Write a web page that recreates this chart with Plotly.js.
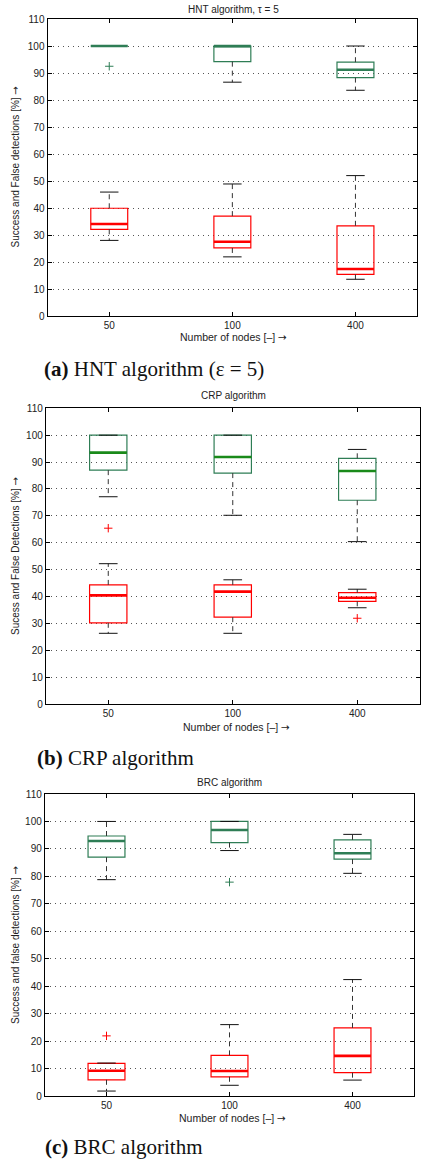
<!DOCTYPE html>
<html>
<head>
<meta charset="utf-8">
<script src="https://cdn.plot.ly/plotly-3.0.1.min.js"></script>
<style>html,body{margin:0;padding:0;background:#fff}#chart{width:422px;height:1162px}</style>
</head>
<body>
<div id="chart"></div>
<script>
// ---------- DATA ----------
var categories = ['50', '100', '400'];
var yTickLabels = ['0','10','20','30','40','50','60','70','80','90','100','110'];

// HNT algorithm, tau = 5
var hntSuccessQ1 = [100, 94.2, 88.3];
var hntSuccessMedian = [100, 100, 91.2];
var hntSuccessQ3 = [100, 100, 94.0];
var hntSuccessLow = [100, 86.6, 83.6];
var hntSuccessHigh = [100, 100, 100];
var hntSuccessOutCat = ['50'];
var hntSuccessOutVal = [92.5];

var hntFalseQ1 = [32.1, 25.2, 15.4];
var hntFalseMedian = [34.1, 27.5, 17.4];
var hntFalseQ3 = [39.9, 37.0, 33.4];
var hntFalseLow = [28.0, 21.9, 13.6];
var hntFalseHigh = [45.9, 48.9, 52.0];
var hntFalseOutCat = [];
var hntFalseOutVal = [];

// CRP algorithm
var crpSuccessQ1 = [87.0, 85.9, 75.8];
var crpSuccessMedian = [93.5, 91.9, 86.7];
var crpSuccessQ3 = [100, 100, 91.4];
var crpSuccessLow = [77.1, 70.2, 60.4];
var crpSuccessHigh = [100, 100, 94.7];
var crpSuccessOutCat = [];
var crpSuccessOutVal = [];

var crpFalseQ1 = [30.2, 32.3, 38.2];
var crpFalseMedian = [40.4, 41.8, 39.5];
var crpFalseQ3 = [44.3, 44.3, 41.4];
var crpFalseLow = [26.3, 26.3, 35.8];
var crpFalseHigh = [52.2, 46.2, 42.7];
var crpFalseOutCat = ['50', '400'];
var crpFalseOutVal = [65.4, 31.9];

// BRC algorithm
var brcSuccessQ1 = [87.0, 92.3, 86.3];
var brcSuccessMedian = [92.9, 96.9, 88.4];
var brcSuccessQ3 = [94.7, 100, 93.3];
var brcSuccessLow = [78.8, 89.4, 81.1];
var brcSuccessHigh = [100, 100, 95.3];
var brcSuccessOutCat = ['100'];
var brcSuccessOutVal = [77.9];

var brcFalseQ1 = [5.9, 7.0, 8.5];
var brcFalseMedian = [9.2, 9.1, 14.6];
var brcFalseQ3 = [11.9, 14.8, 24.8];
var brcFalseLow = [1.8, 3.9, 5.8];
var brcFalseHigh = [12.0, 26.0, 42.4];
var brcFalseOutCat = ['50'];
var brcFalseOutVal = [21.9];

// ---------- STYLE / LAYOUT ----------
var W = 422, H = 1162;
function px(x) { return x / W; }
function py(y) { return 1 - y / H; }

var BOX_W = 0.3, CAP_W = 0.15;
var GREEN = '#2e7d55', GREEN2 = '#1a8a1a', RED = '#ff0000', WHISK = '#333333';

function pos(cat) { return categories.indexOf(cat) + 1; }

function seriesTraces(ax, s, color, medColor) {
  var xa = 'x' + ax, ya = 'y' + ax;
  var P = categories.map(function (c) { return pos(c); });
  var wx = [], wy = [], cx = [], cy = [], mx = [], my = [];
  P.forEach(function (p, i) {
    wx.push(p, p, null, p, p, null);
    wy.push(s.q3[i], s.hi[i], null, s.q1[i], s.lo[i], null);
    cx.push(p - CAP_W / 2, p + CAP_W / 2, null, p - CAP_W / 2, p + CAP_W / 2, null);
    cy.push(s.hi[i], s.hi[i], null, s.lo[i], s.lo[i], null);
    mx.push(p - BOX_W / 2, p + BOX_W / 2, null);
    my.push(s.med[i], s.med[i], null);
  });
  return [
    {type: 'scatter', mode: 'lines', x: wx, y: wy, xaxis: xa, yaxis: ya,
     line: {color: WHISK, width: 1, dash: '5px,4px'}, hoverinfo: 'skip'},
    {type: 'scatter', mode: 'lines', x: cx, y: cy, xaxis: xa, yaxis: ya,
     line: {color: '#111', width: 1}, hoverinfo: 'skip'},
    {type: 'box', x: P, q1: s.q1, median: s.med, q3: s.q3,
     lowerfence: s.q1, upperfence: s.q3, width: BOX_W, whiskerwidth: 0,
     boxpoints: false, xaxis: xa, yaxis: ya,
     line: {color: color, width: 1.2}, fillcolor: 'rgba(0,0,0,0)', hoverinfo: 'skip'},
    {type: 'scatter', mode: 'lines', x: mx, y: my, xaxis: xa, yaxis: ya,
     line: {color: medColor, width: 2.6}, hoverinfo: 'skip'},
    {type: 'scatter', mode: 'markers', x: s.outCat.map(pos), y: s.outVal, xaxis: xa, yaxis: ya,
     marker: {symbol: 'cross-thin', size: 6, color: s.outColor || color,
              line: {color: s.outColor || color, width: 1}}, hoverinfo: 'skip'}
  ];
}

var traces = [];
traces = traces.concat(seriesTraces('', {q1: hntSuccessQ1, med: hntSuccessMedian, q3: hntSuccessQ3, lo: hntSuccessLow, hi: hntSuccessHigh, outCat: hntSuccessOutCat, outVal: hntSuccessOutVal}, GREEN, GREEN));
traces = traces.concat(seriesTraces('', {q1: hntFalseQ1, med: hntFalseMedian, q3: hntFalseQ3, lo: hntFalseLow, hi: hntFalseHigh, outCat: hntFalseOutCat, outVal: hntFalseOutVal}, RED, RED));
traces = traces.concat(seriesTraces('2', {q1: crpSuccessQ1, med: crpSuccessMedian, q3: crpSuccessQ3, lo: crpSuccessLow, hi: crpSuccessHigh, outCat: crpSuccessOutCat, outVal: crpSuccessOutVal}, GREEN, GREEN2));
traces = traces.concat(seriesTraces('2', {q1: crpFalseQ1, med: crpFalseMedian, q3: crpFalseQ3, lo: crpFalseLow, hi: crpFalseHigh, outCat: crpFalseOutCat, outVal: crpFalseOutVal}, RED, RED));
traces = traces.concat(seriesTraces('3', {q1: brcSuccessQ1, med: brcSuccessMedian, q3: brcSuccessQ3, lo: brcSuccessLow, hi: brcSuccessHigh, outCat: brcSuccessOutCat, outVal: brcSuccessOutVal}, GREEN, GREEN));
traces = traces.concat(seriesTraces('3', {q1: brcFalseQ1, med: brcFalseMedian, q3: brcFalseQ3, lo: brcFalseLow, hi: brcFalseHigh, outCat: brcFalseOutCat, outVal: brcFalseOutVal}, RED, RED));

var tickFont = {family: 'Liberation Sans, Arial, sans-serif', size: 10, color: '#222'};
function xAxis(anchor, l, r) {
  return {domain: [px(l), px(r)], anchor: anchor, range: [0.5, 3.5],
    tickmode: 'array', tickvals: [1, 2, 3], ticktext: categories,
    ticks: 'inside', ticklen: 4, tickcolor: '#000', tickwidth: 1,
    showline: true, linecolor: '#000', linewidth: 1.2, mirror: 'ticks',
    showgrid: false, zeroline: false, tickfont: tickFont, fixedrange: true};
}
function yAxis(anchor, t, b) {
  return {domain: [py(b), py(t)], anchor: anchor, range: [0, 110],
    tickmode: 'array', tickvals: yTickLabels.map(Number), ticktext: yTickLabels,
    ticks: 'inside', ticklen: 4, tickcolor: '#000', tickwidth: 1,
    showline: true, linecolor: '#000', linewidth: 1.2, mirror: 'ticks',
    showgrid: true, gridcolor: '#555', griddash: '1px,4px', gridwidth: 1,
    zeroline: false, tickfont: tickFont, fixedrange: true};
}

var sans = 'Liberation Sans, Arial, sans-serif';
var serif = 'Liberation Serif, Times New Roman, serif';
var ARROW = '<span style="font-family:DejaVu Sans">→</span>';
function ann(text, x, y, size, fam, opts) {
  var a = {text: text, xref: 'paper', yref: 'paper', x: px(x), y: py(y),
    xanchor: 'center', yanchor: 'middle', showarrow: false,
    font: {family: fam, size: size, color: '#222'}};
  for (var k in opts) a[k] = opts[k];
  return a;
}
var capFont = {family: serif, size: 21, color: '#111'};

var layout = {
  width: W, height: H, margin: {l: 0, r: 0, t: 0, b: 0},
  paper_bgcolor: '#fff', plot_bgcolor: '#fff', showlegend: false, boxmode: 'overlay',
  xaxis: xAxis('y', 47.7, 417), yaxis: yAxis('x', 19, 316),
  xaxis2: xAxis('y2', 46, 419.5), yaxis2: yAxis('x2', 408.3, 704),
  xaxis3: xAxis('y3', 45, 414), yaxis3: yAxis('x3', 794, 1096),
  annotations: [
    ann('HNT algorithm, τ = 5', 234, 9, 10, sans),
    ann('Number of nodes [–] ' + ARROW, 234, 337, 10.5, sans),
    ann('Success and False detections [%] ' + ARROW, 15, 167.5, 10, sans, {textangle: -90}),
    ann('<b>(a)</b> HNT algorithm (ε = 5)', 41.7, 369, 21, serif, {xanchor: 'left', font: capFont}),

    ann('CRP algorithm', 233, 396, 10, sans),
    ann('Number of nodes [–] ' + ARROW, 236, 727, 10.5, sans),
    ann('Sucess and False Detections [%] ' + ARROW, 15, 556, 10, sans, {textangle: -90}),
    ann('<b>(b)</b> CRP algorithm', 35, 758, 21, serif, {xanchor: 'left', font: capFont}),

    ann('BRC algorithm', 229, 782, 10, sans),
    ann('Number of nodes [–] ' + ARROW, 232, 1118, 10.5, sans),
    ann('Success and false detections [%] ' + ARROW, 15, 945, 10, sans, {textangle: -90}),
    ann('<b>(c)</b> BRC algorithm', 43, 1147, 21, serif, {xanchor: 'left', font: capFont})
  ]
};

Plotly.newPlot('chart', traces, layout, {staticPlot: true, displayModeBar: false});
</script>
</body>
</html>
